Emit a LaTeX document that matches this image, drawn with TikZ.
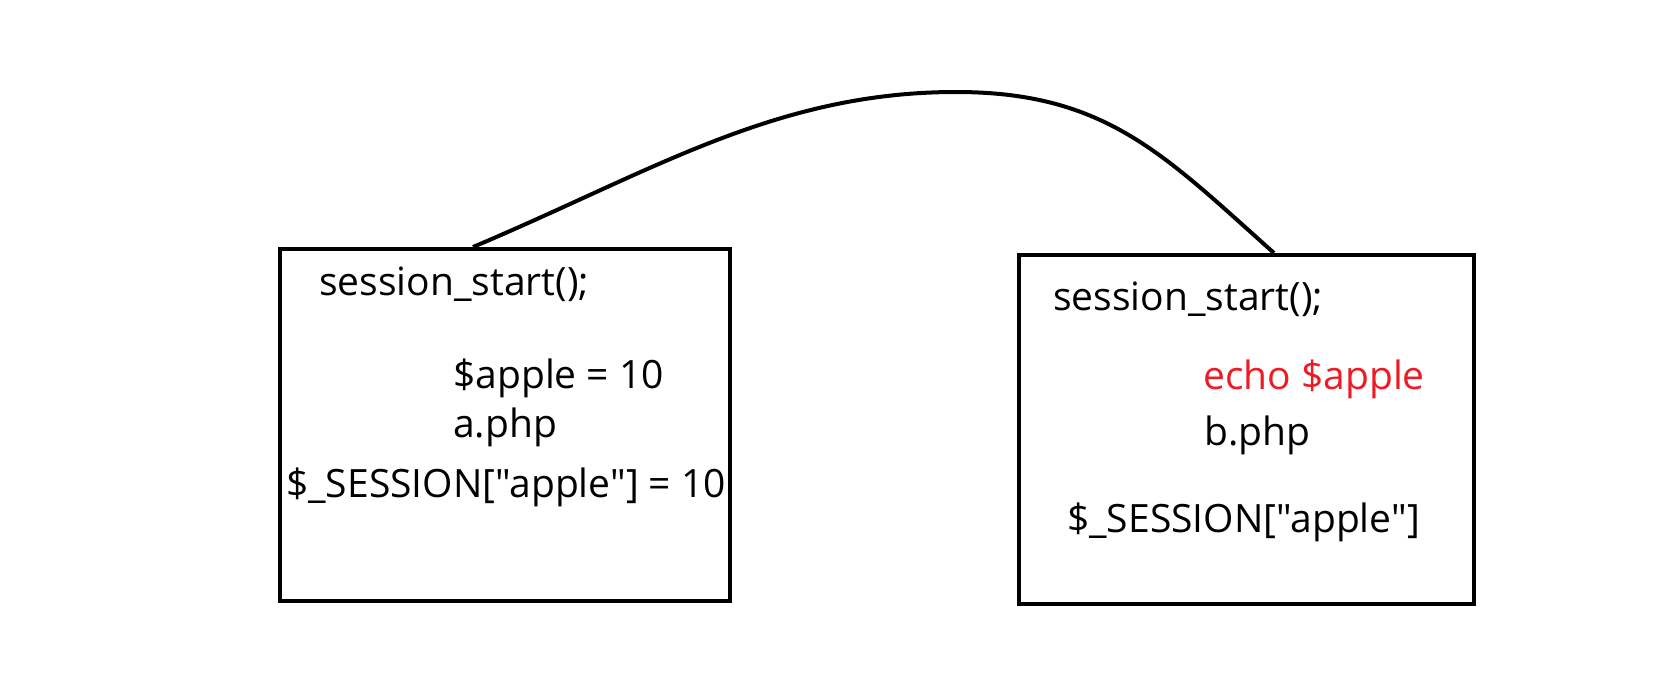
\documentclass[tikz,border=0pt]{standalone}
\usepackage{fontspec}
\newfontfamily\codefont{Open Sans}
\definecolor{pred}{HTML}{ED1C24}
\begin{document}
\begin{tikzpicture}[x=1pt,y=-1pt,
  box/.style={draw,line width=4pt,rectangle,inner sep=0pt},
  code/.style={anchor=base west,inner sep=0pt,font=\codefont\fontsize{39}{46}\selectfont},
  link/.style={line width=4pt}]
\useasboundingbox (0,0) rectangle (1666,694);
\node[box,minimum width=450pt,minimum height=352pt] (pa) at (505,425) {};
\node[box,minimum width=455pt,minimum height=349pt] (pb) at (1246.5,429.5) {};
% left box texts
\node[code] (a1) at (319,295) {session\_start();};
\node[code] (a2) at (453,388) {\$apple = 10};
\node[code] (a3) at (453,437) {a.php};
\node[code] (a4) at (286,497) {\$\_SESSION["apple"] = 10};
% right box texts
\node[code] (b1) at (1053,310) {session\_start();};
\node[code,text=pred] (b2) at (1203,389) {echo \$apple};
\node[code] (b3) at (1204,445) {b.php};
\node[code] (b4) at (1067,532) {\$\_SESSION["apple"]};
% connector
\coordinate (s1) at ([xshift=-32pt]pa.north);
\coordinate (top) at (956,92);
\coordinate (s2) at ([xshift=27.5pt]pb.north);
\draw[link] (s1) .. controls (653,171) and (776,92) .. (top)
  .. controls (1106,92) and (1164,155) .. (s2);
\end{tikzpicture}
\end{document}
